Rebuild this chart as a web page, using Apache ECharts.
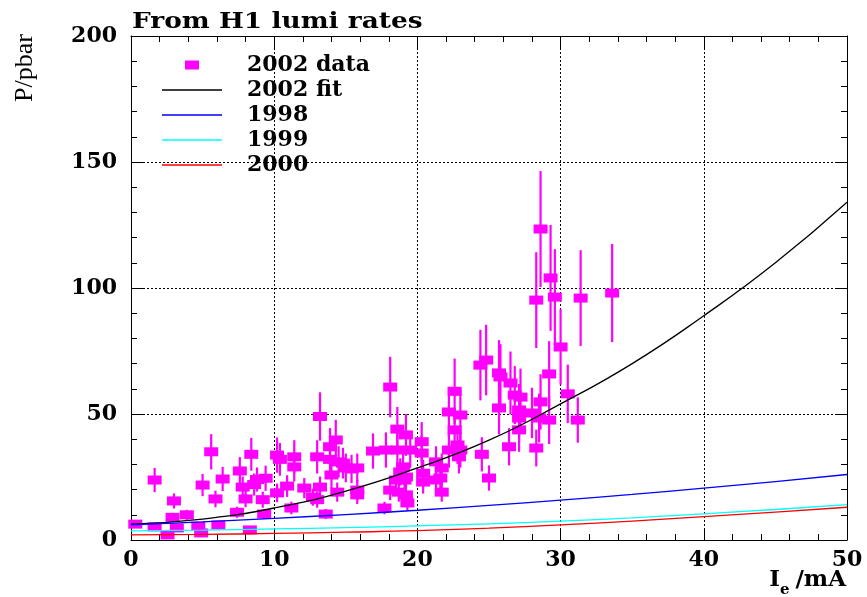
<!DOCTYPE html>
<html>
<head>
<meta charset="utf-8">
<script src="https://cdn.jsdelivr.net/npm/echarts@6/dist/echarts.min.js"></script>
<style>
html,body{margin:0;padding:0;background:#fff;}
#chart{width:867px;height:597px;}
</style>
</head>
<body>
<div id="chart"></div>
<script>
// ---- data ----
const dataX = [0.3,1.65,1.65,2.55,2.9,3.0,3.2,3.9,4.7,5.0,5.6,5.9,6.4,6.1,4.9,7.4,7.6,7.8,8.4,8.0,8.3,8.8,9.2,9.3,9.4,8.6,
  10.2,10.4,10.2,11.2,10.9,11.4,11.4,12.1,12.7,13.0,13.2,13.2,13.0,13.6,13.9,13.9,14.3,14.0,14.4,14.5,15.0,15.4,15.8,15.8,15.8,14.8,
  16.9,17.7,17.8,18.1,18.1,18.6,18.6,18.8,19.2,18.7,19.2,19.0,19.2,19.3,19.5,18.5,19.1,
  20.3,20.3,20.4,20.4,21.3,21.3,21.6,21.7,21.7,22.2,23.0,22.6,22.2,23.0,22.6,22.9,22.8,
  24.5,24.4,24.8,25.0,25.7,25.8,26.5,25.7,26.8,27.2,27.1,27.1,28.0,28.6,28.5,29.2,29.2,30.0,30.5,31.2,27.1,26.4,28.3,
  28.6,29.3,29.6,28.3,31.4,33.6];
const dataY = [6.3,23.8,5.2,2.0,9.0,15.5,4.8,10.0,5.5,21.8,35.0,16.3,24.2,6.0,2.8,11.0,27.4,21.0,34.0,16.3,4.0,24.0,16.0,10.3,24.5,22.0,
  33.7,32.0,18.7,12.7,21.4,33.0,29.0,20.6,17.0,33.0,49.0,21.0,16.0,10.3,32.0,37.0,39.7,25.8,19.0,31.0,28.6,28.2,17.9,19.8,28.6,30.5,
  35.3,12.7,35.7,19.8,60.7,44.0,35.7,27.0,41.7,19.0,25.0,29.0,17.9,14.7,35.7,23.8,23.8,
  39.0,34.5,23.0,26.5,31.0,23.8,24.6,19.0,28.6,35.7,35.7,59.0,50.8,49.6,43.7,33.0,37.7,
  34.0,69.4,71.4,24.6,66.3,64.7,62.3,52.4,57.5,56.7,51.6,48.4,50.4,54.8,48.4,47.6,65.9,76.6,58.0,47.6,43.7,37.0,36.5,
  123.4,104.0,96.4,95.2,96.0,98.0];
const dataErr = [1.2,4.8,1.0,0.5,1.8,3.0,1.0,2.0,1.1,4.4,7.0,3.3,4.8,1.2,0.6,2.2,5.5,4.2,6.5,3.3,0.8,4.8,3.2,2.0,5.0,4.4,
  7.0,6.5,3.7,2.5,4.3,6.6,5.8,4.0,3.4,6.6,9.6,4.2,3.2,2.0,6.4,7.4,8.0,5.2,3.8,6.2,5.7,5.6,3.6,4.0,5.7,6.1,
  7.0,2.5,7.0,4.0,12.0,8.8,7.0,5.4,8.3,3.8,5.0,5.8,3.6,3.0,7.0,4.8,4.8,
  7.8,7.0,4.6,5.3,6.2,4.8,5.0,3.8,5.7,7.0,7.0,13.0,10.0,10.0,8.7,6.6,7.5,
  6.8,14.0,14.0,5.0,13.0,13.0,12.5,10.5,11.5,11.3,10.3,9.7,10.0,11.0,9.7,9.5,13.0,15.0,11.6,9.0,8.7,7.4,7.3,
  23.0,21.0,19.0,19.0,19.0,19.5];

const curveX  = [0,5,10,15,20,25,30,35,40,45,50];
const fit2002 = [6.3,8.3,12.7,19.4,28.6,39.6,54,70,89,110,134];
const y1998   = [6.0,7.2,8.6,10.1,11.8,13.7,15.8,18.1,20.6,23.2,26.0];
const y1999   = [3.6,3.9,4.4,4.9,5.6,6.4,7.5,8.8,10.4,12.1,14.0];
const y2000   = [2.0,2.2,2.6,3.1,3.7,4.7,6.0,7.5,9.3,11.1,13.0];

const xTicks = {min:0, max:50, interval:10};
const yTicks = {min:0, max:200, interval:50};

// ---- build ----
const pts = dataX.map((x,i)=>[x, dataY[i], dataErr[i]]);
const curve = arr => curveX.map((x,i)=>[x, arr[i]]);

const MAG = '#ff00ff';
const labelFont = {fontFamily:'DejaVu Serif', fontWeight:'bold', fontSize:22, color:'#000'};
const LINE_ICON = 'path://M0,0h0.01v0.01H0z M0,6.3h60v1.4H0z M59.99,13.99h0.01v0.01h-0.01z';
const RECT_ICON = 'path://M0,0h0.01v0.01H0z M23,2.5h14v9H23z M59.99,13.99h0.01v0.01h-0.01z';

function axisCommon(extra){
  return Object.assign({
    type:'value',
    axisLine:{show:true, onZero:false, lineStyle:{color:'#000', width:1}},
    axisTick:{show:true, inside:true, length:12, lineStyle:{color:'#000'}},
    minorTick:{show:true, splitNumber:5, length:6, lineStyle:{color:'#000'}},
  }, extra);
}

const chart = echarts.init(document.getElementById('chart'), null, {renderer:'canvas'});
chart.setOption({
  animation:false,
  backgroundColor:'#fff',
  grid:{left:131, right:20, top:36, bottom:57, containLabel:false},
  xAxis:[
    axisCommon({min:xTicks.min, max:xTicks.max, interval:xTicks.interval, position:'bottom',
      axisLabel:Object.assign({margin:9}, labelFont),
      splitLine:{show:true, lineStyle:{color:'#000', type:[2,2], width:1}}}),
    axisCommon({min:xTicks.min, max:xTicks.max, interval:xTicks.interval, position:'top',
      axisLabel:{show:false}, splitLine:{show:false}})
  ],
  yAxis:[
    axisCommon({min:yTicks.min, max:yTicks.max, interval:yTicks.interval, position:'left',
      axisLabel:Object.assign({margin:14}, labelFont),
      splitLine:{show:true, lineStyle:{color:'#000', type:[2,2], width:1}}}),
    axisCommon({min:yTicks.min, max:yTicks.max, interval:yTicks.interval, position:'right',
      axisLabel:{show:false}, splitLine:{show:false}})
  ],
  legend:{
    orient:'vertical', left:157, top:49, itemWidth:60, itemHeight:14, itemGap:3,
    selectedMode:false,
    textStyle:{fontFamily:'DejaVu Serif', fontWeight:'bold', fontSize:22, color:'#000', padding:[0,0,0,20]},
    data:[
      {name:'2002 data', icon:RECT_ICON},
      {name:'2002 fit', icon:LINE_ICON},{name:'1998', icon:LINE_ICON},
      {name:'1999', icon:LINE_ICON},{name:'2000', icon:LINE_ICON}
    ]
  },
  graphic:[
    {type:'text', x:132, y:22, scaleX:1.2, style:{text:'From H1 lumi rates', font:'bold 22px "DejaVu Serif"', fill:'#000', textVerticalAlign:'middle'}},
    {type:'text', x:25, y:68, rotation:Math.PI/2, style:{text:'P/pbar', font:'26px "Liberation Serif"', fill:'#000', textAlign:'center', textVerticalAlign:'middle'}},
    {type:'text', x:846, y:592, style:{text:'/mA', font:'bold 23px "DejaVu Serif"', fill:'#000', textAlign:'right', textVerticalAlign:'bottom'}},
    {type:'text', x:780, y:598, style:{text:'e', font:'bold 15px "DejaVu Serif"', fill:'#000', textAlign:'left', textVerticalAlign:'bottom'}},
    {type:'text', x:780, y:592, style:{text:'I', font:'bold 23px "DejaVu Serif"', fill:'#000', textAlign:'right', textVerticalAlign:'bottom'}}
  ],
  series:[
    {
      type:'custom', name:'errors', xAxisIndex:0, yAxisIndex:0, clip:true, z:2,
      encode:{x:0, y:1},
      data:pts,
      renderItem:function(params, api){
        const x = api.value(0), y = api.value(1), e = api.value(2);
        const p1 = api.coord([x, y - e]);
        const p2 = api.coord([x, y + e]);
        return {type:'line', shape:{x1:p1[0], y1:p1[1], x2:p2[0], y2:p2[1]},
                style:{stroke:MAG, lineWidth:2.2}};
      }
    },
    {
      type:'scatter', name:'2002 data', symbol:'rect', symbolSize:[14,9], z:3,
      itemStyle:{color:MAG, opacity:1}, data:pts.map(p=>[p[0],p[1]]), clip:true
    },
    {type:'line', name:'2002 fit', data:curve(fit2002), smooth:true, symbol:'none', z:5,
     lineStyle:{color:'#000', width:1.3}, itemStyle:{color:'#000'}},
    {type:'line', name:'1998', data:curve(y1998), smooth:true, symbol:'none', z:5,
     lineStyle:{color:'#0000ff', width:1.3}, itemStyle:{color:'#0000ff'}},
    {type:'line', name:'1999', data:curve(y1999), smooth:true, symbol:'none', z:5,
     lineStyle:{color:'#00ffff', width:1.3}, itemStyle:{color:'#00ffff'}},
    {type:'line', name:'2000', data:curve(y2000), smooth:true, symbol:'none', z:5,
     lineStyle:{color:'#ff0000', width:1.3}, itemStyle:{color:'#ff0000'}}
  ]
});
</script>
</body>
</html>
